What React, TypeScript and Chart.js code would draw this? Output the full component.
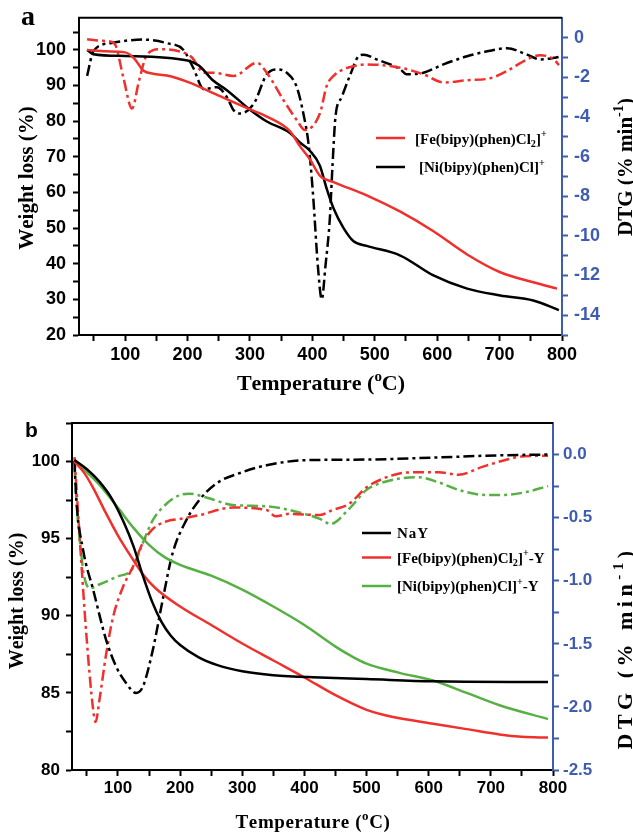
import { useEffect, useRef } from 'react';
import { Chart, registerables } from 'chart.js';
Chart.register(...registerables);

const RED = '#f0302c';
const GREEN = '#56b043';
const BLACK = '#000000';
const BLUE = '#3f5db0';
const SANS = "'Liberation Sans', Arial, sans-serif";
const SERIF = "'Liberation Serif', 'Times New Roman', serif";

// ---------- Panel a ----------
const aFeTgaTemp = [39, 70, 100, 115, 129, 145, 167, 200, 252, 300, 327, 364, 380, 396, 412, 434, 487, 541, 594, 648, 701, 754, 792];
const aFeTgaWt = [100, 99.6, 99.3, 97.5, 94.2, 93.3, 92.8, 91.0, 87.0, 83.3, 81.3, 77.2, 73.0, 69.3, 64.7, 62.9, 59.2, 54.6, 49.1, 42.6, 37.6, 34.8, 33.0];

const aNiTgaTemp = [39, 49, 100, 200, 218, 241, 263, 300, 327, 364, 380, 396, 412, 423, 434, 450, 466, 487, 541, 594, 648, 701, 754, 795];
const aNiTgaWt = [100, 98.8, 98.3, 97.0, 95.6, 91.4, 88.7, 83.2, 79.9, 76.7, 74.0, 71.7, 67.5, 61.0, 55.5, 50.0, 46.3, 45.0, 42.3, 36.7, 33.0, 31.1, 29.7, 27.0];

const aFeDtgTemp = [39, 60, 76, 84, 97, 111, 122, 135, 156, 188, 207, 226, 241, 274, 311, 327, 354, 375, 388, 412, 423, 434, 450, 466, 487, 541, 578, 610, 648, 685, 712, 744, 765, 787, 795];
const aFeDtgVal = [-0.08, -0.15, -0.2, -0.35, -2.0, -3.58, -2.2, -0.86, -0.58, -0.7, -1.0, -1.77, -1.77, -1.93, -1.27, -1.77, -3.17, -4.16, -4.66, -3.83, -2.43, -1.93, -1.6, -1.44, -1.35, -1.52, -1.85, -2.26, -2.15, -2.05, -1.68, -1.1, -0.89, -1.1, -1.39];

const aNiDtgTemp = [39, 49, 76, 129, 167, 193, 209, 226, 247, 263, 274, 284, 306, 327, 343, 359, 375, 386, 394, 401, 409, 415, 421, 428, 432, 437, 447, 460, 474, 482, 503, 541, 551, 578, 610, 648, 685, 712, 744, 765, 787, 795];
const aNiDtgVal = [-1.93, -0.69, -0.28, -0.1, -0.28, -0.61, -1.52, -2.6, -2.5, -3.0, -3.67, -3.83, -3.34, -1.85, -1.6, -1.77, -2.5, -3.9, -5.4, -7.9, -11.6, -13.2, -11.5, -9.1, -6.6, -4.0, -3.0, -1.93, -0.94, -0.86, -1.1, -1.6, -1.85, -1.77, -1.35, -0.94, -0.66, -0.53, -0.86, -1.1, -1.02, -0.97];

const aXTicks = [50, 100, 150, 200, 250, 300, 350, 400, 450, 500, 550, 600, 650, 700, 750, 800];
const aLeftTicks = [20, 25, 30, 35, 40, 45, 50, 55, 60, 65, 70, 75, 80, 85, 90, 95, 100, 105];
const aRightTicks = [-15, -14, -13, -12, -11, -10, -9, -8, -7, -6, -5, -4, -3, -2, -1, 0];

// ---------- Panel b ----------
const bNaYTgaTemp = [30, 50, 70, 90, 110, 125, 140, 155, 170, 185, 200, 230, 260, 300, 350, 425, 500, 607, 792];
const bNaYTgaWt = [100.1, 99.5, 98.7, 97.6, 96.0, 94.5, 92.6, 90.9, 89.6, 88.7, 88.1, 87.3, 86.8, 86.4, 86.15, 86.0, 85.9, 85.75, 85.7];

const bFeTgaTemp = [30, 45, 60, 80, 100, 120, 140, 160, 200, 250, 300, 350, 400, 450, 500, 530, 553, 607, 661, 714, 750, 792];
const bFeTgaWt = [100, 99.3, 98.3, 96.7, 95.2, 93.9, 92.7, 91.8, 90.6, 89.4, 88.2, 87.1, 86.0, 84.85, 83.9, 83.55, 83.35, 83.0, 82.65, 82.3, 82.15, 82.1];

const bNiTgaTemp = [30, 50, 70, 100, 125, 150, 175, 200, 250, 300, 350, 400, 450, 475, 500, 553, 607, 661, 714, 792];
const bNiTgaWt = [100, 99.3, 98.5, 97.0, 95.7, 94.6, 93.8, 93.3, 92.6, 91.7, 90.6, 89.4, 88.0, 87.4, 86.9, 86.3, 85.8, 85.0, 84.2, 83.3];

const bNaYDtgTemp = [30, 33, 44, 60, 81, 97, 113, 129, 140, 156, 172, 188, 210, 231, 258, 300, 339, 400, 500, 607, 714, 792];
const bNaYDtgVal = [-0.05, -0.36, -0.76, -1.07, -1.47, -1.68, -1.81, -1.89, -1.84, -1.55, -1.15, -0.78, -0.52, -0.36, -0.23, -0.14, -0.085, -0.045, -0.04, -0.024, -0.006, 0.0];

const bFeDtgTemp = [30, 38, 49, 60, 64, 70, 81, 92, 108, 124, 140, 156, 178, 200, 231, 285, 339, 354, 376, 425, 445, 472, 500, 527, 553, 584, 616, 648, 685, 722, 754, 792];
const bFeDtgVal = [-0.02, -0.63, -1.42, -2.02, -2.12, -1.95, -1.58, -1.29, -1.05, -0.89, -0.7, -0.59, -0.53, -0.51, -0.48, -0.42, -0.44, -0.49, -0.47, -0.48, -0.44, -0.39, -0.26, -0.19, -0.15, -0.14, -0.14, -0.16, -0.1, -0.045, -0.013, -0.01];

const bNiDtgTemp = [30, 35, 40, 45, 55, 70, 97, 124, 140, 156, 178, 200, 215, 242, 285, 339, 400, 425, 442, 472, 500, 527, 553, 584, 616, 648, 690, 722, 754, 792];
const bNiDtgVal = [-0.1, -0.5, -0.75, -0.95, -1.06, -1.03, -0.97, -0.9, -0.7, -0.52, -0.39, -0.32, -0.31, -0.34, -0.4, -0.41, -0.47, -0.51, -0.55, -0.43, -0.28, -0.22, -0.19, -0.18, -0.22, -0.28, -0.32, -0.32, -0.3, -0.25];

const bXTicks = [50, 100, 150, 200, 250, 300, 350, 400, 450, 500, 550, 600, 650, 700, 750, 800];
const bLeftTicks = [80, 82.5, 85, 87.5, 90, 92.5, 95, 97.5, 100, 102.5];
const bRightTicks = [-2.5, -2.25, -2, -1.75, -1.5, -1.25, -1, -0.75, -0.5, -0.25, 0];

// ---------- helpers ----------
type Seg = { t: string; s?: 'sup' | 'sub' };
type TextItem = { segs: Seg[]; x: number; y: number; size: number; family: string; color?: string; align?: 'left' | 'center'; rot?: number; spacing?: number };
type LegItem = { color: string; x1: number; x2: number; y: number; tx: number; ty: number; segs: Seg[]; size: number; spacing?: number };

function drawRich(ctx: CanvasRenderingContext2D, it: TextItem) {
  ctx.save();
  ctx.translate(it.x, it.y);
  if (it.rot) ctx.rotate(it.rot);
  const sp = it.spacing || 0;
  const fontOf = (sz: number) => `bold ${sz}px ${it.family}`;
  const parts = it.segs.map((sg) => {
    const sz = sg.s ? it.size * 0.68 : it.size;
    ctx.font = fontOf(sz);
    let w = 0;
    for (const ch of sg.t) w += ctx.measureText(ch).width + sp;
    return { sg, sz, w };
  });
  const total = parts.reduce((a, p) => a + p.w, 0);
  let cx = it.align === 'center' ? -total / 2 : 0;
  ctx.fillStyle = it.color || '#000';
  ctx.textBaseline = 'alphabetic';
  ctx.textAlign = 'left';
  for (const p of parts) {
    ctx.font = fontOf(p.sz);
    const dy = p.sg.s === 'sup' ? -it.size * 0.42 : p.sg.s === 'sub' ? it.size * 0.22 : 0;
    for (const ch of p.sg.t) {
      ctx.fillText(ch, cx, dy);
      cx += ctx.measureText(ch).width + sp;
    }
  }
  ctx.restore();
}

const makeAnnot = (texts: TextItem[], legend: LegItem[]) => ({
  id: 'annot',
  afterDraw(chart: any) {
    const ctx: CanvasRenderingContext2D = chart.ctx;
    const a = chart.chartArea;
    ctx.save();
    ctx.strokeStyle = '#000';
    ctx.lineWidth = 2;
    ctx.beginPath();
    ctx.moveTo(a.left - 1, a.top);
    ctx.lineTo(a.right, a.top);
    ctx.stroke();
    for (const l of legend) {
      ctx.strokeStyle = l.color;
      ctx.lineWidth = 2.5;
      ctx.setLineDash([]);
      ctx.beginPath();
      ctx.moveTo(l.x1, l.y);
      ctx.lineTo(l.x2, l.y);
      ctx.stroke();
      drawRich(ctx, { segs: l.segs, x: l.tx, y: l.ty, size: l.size, family: SERIF, spacing: l.spacing });
    }
    for (const t of texts) drawRich(ctx, t);
    ctx.restore();
  },
});

const pts = (xs: number[], ys: number[]) => xs.map((x, i) => ({ x, y: ys[i] }));
const DASHDOT = [11, 4, 3, 4];
const ds = (xs: number[], ys: number[], color: string, dashed: boolean, axis: string) => ({
  data: pts(xs, ys),
  borderColor: color,
  backgroundColor: color,
  borderWidth: 2.5,
  borderDash: dashed ? DASHDOT : [],
  pointRadius: 0,
  cubicInterpolationMode: 'monotone' as const,
  fill: false,
  yAxisID: axis,
});

function axisCfg(opts: {
  pos: 'left' | 'right' | 'bottom';
  min: number;
  max: number;
  ticks: number[];
  label: (v: number) => string;
  color: string;
  size: number;
  pad: number;
  fit: number;
}) {
  return {
    type: 'linear' as const,
    position: opts.pos,
    min: opts.min,
    max: opts.max,
    afterBuildTicks: (s: any) => {
      s.ticks = opts.ticks.map((v) => ({ value: v }));
    },
    afterFit: (s: any) => {
      if (opts.pos === 'bottom') s.height = opts.fit;
      else s.width = opts.fit;
    },
    ticks: {
      autoSkip: false,
      maxRotation: 0,
      padding: opts.pad,
      color: opts.color,
      font: { family: SANS, size: opts.size, weight: 'bold' as const },
      callback: (v: any) => opts.label(Number(v)),
    },
    grid: {
      drawOnChartArea: false,
      drawTicks: true,
      tickLength: 6,
      tickWidth: 2,
      tickColor: opts.color,
    },
    border: { display: true, color: opts.color, width: 2 },
  };
}

function useChart(ref: React.RefObject<HTMLCanvasElement | null>, make: () => any) {
  useEffect(() => {
    if (!ref.current) return;
    const c = new Chart(ref.current, make());
    return () => c.destroy();
  }, []);
}

export default function App() {
  const refA = useRef<HTMLCanvasElement | null>(null);
  const refB = useRef<HTMLCanvasElement | null>(null);

  useChart(refA, () => ({
    type: 'line',
    data: {
      datasets: [
        ds(aFeTgaTemp, aFeTgaWt, RED, false, 'y'),
        ds(aNiTgaTemp, aNiTgaWt, BLACK, false, 'y'),
        ds(aFeDtgTemp, aFeDtgVal, RED, true, 'y2'),
        ds(aNiDtgTemp, aNiDtgVal, BLACK, true, 'y2'),
      ],
    },
    options: {
      animation: false,
      responsive: false,
      devicePixelRatio: 1,
      layout: { padding: { top: 13, left: 0, right: 0, bottom: 0 } },
      plugins: { legend: { display: false }, tooltip: { enabled: false } },
      scales: {
        x: axisCfg({ pos: 'bottom', min: 26, max: 800, ticks: aXTicks, label: (v) => (v % 100 === 0 ? String(v) : ''), color: BLACK, size: 18, pad: 3, fit: 65 }),
        y: axisCfg({ pos: 'left', min: 20, max: 109, ticks: aLeftTicks, label: (v) => (v % 10 === 0 ? String(v) : ''), color: BLACK, size: 18, pad: 7, fit: 79 }),
        y2: axisCfg({ pos: 'right', min: -15, max: 1, ticks: aRightTicks, label: (v) => (v % 2 === 0 ? String(v) : ''), color: BLUE, size: 18, pad: 6, fit: 71 }),
      },
    },
    plugins: [
      makeAnnot(
        [
          { segs: [{ t: 'a' }], x: 21, y: 25, size: 28, family: SERIF },
          { segs: [{ t: 'Weight loss (%)' }], x: 33, y: 178, size: 21, family: SERIF, align: 'center', rot: -Math.PI / 2 },
          { segs: [{ t: 'DTG (% min' }, { t: '-1', s: 'sup' }, { t: ')' }], x: 632, y: 167, size: 21, family: SERIF, align: 'center', rot: -Math.PI / 2 },
          { segs: [{ t: 'Temperature (' }, { t: 'o', s: 'sup' }, { t: 'C)' }], x: 321, y: 390, size: 22, family: SERIF, align: 'center' },
        ],
        [
          { color: RED, x1: 376, x2: 405, y: 138, tx: 415, ty: 143.5, size: 15, segs: [{ t: '[Fe(bipy)(phen)Cl' }, { t: '2', s: 'sub' }, { t: ']' }, { t: '+', s: 'sup' }] },
          { color: BLACK, x1: 376, x2: 405, y: 167, tx: 419, ty: 172, size: 15, segs: [{ t: '[Ni(bipy)(phen)Cl]' }, { t: '+', s: 'sup' }] },
        ]
      ),
    ],
  }));

  useChart(refB, () => ({
    type: 'line',
    data: {
      datasets: [
        ds(bNaYTgaTemp, bNaYTgaWt, BLACK, false, 'y'),
        ds(bFeTgaTemp, bFeTgaWt, RED, false, 'y'),
        ds(bNiTgaTemp, bNiTgaWt, GREEN, false, 'y'),
        ds(bNaYDtgTemp, bNaYDtgVal, BLACK, true, 'y2'),
        ds(bFeDtgTemp, bFeDtgVal, RED, true, 'y2'),
        ds(bNiDtgTemp, bNiDtgVal, GREEN, true, 'y2'),
      ],
    },
    options: {
      animation: false,
      responsive: false,
      devicePixelRatio: 1,
      layout: { padding: { top: 23, left: 0, right: 0, bottom: 0 } },
      plugins: { legend: { display: false }, tooltip: { enabled: false } },
      scales: {
        x: axisCfg({ pos: 'bottom', min: 26, max: 800, ticks: bXTicks, label: (v) => (v % 100 === 0 ? String(v) : ''), color: BLACK, size: 17, pad: 2, fit: 63 }),
        y: axisCfg({ pos: 'left', min: 80, max: 102.5, ticks: bLeftTicks, label: (v) => (v % 5 === 0 ? String(v) : ''), color: BLACK, size: 17, pad: 6, fit: 72 }),
        y2: axisCfg({
          pos: 'right', min: -2.5, max: 0.25, ticks: bRightTicks,
          label: (v) => (Math.abs(v * 2 - Math.round(v * 2)) < 1e-9 ? (Math.abs(v) < 1e-9 ? '0.0' : v.toFixed(1)) : ''),
          color: BLUE, size: 17, pad: 4, fit: 80,
        }),
      },
    },
    plugins: [
      makeAnnot(
        [
          { segs: [{ t: 'b' }], x: 25, y: 36.5, size: 21, family: SANS },
          { segs: [{ t: 'Weight loss (%)' }], x: 23, y: 201, size: 20, family: SERIF, align: 'center', rot: -Math.PI / 2 },
          { segs: [{ t: 'DTG (% min' }, { t: '-1', s: 'sup' }, { t: ')' }], x: 632, y: 248, size: 22, family: SERIF, align: 'center', rot: -Math.PI / 2, spacing: 4.5 },
          { segs: [{ t: 'Temperature (' }, { t: 'o', s: 'sup' }, { t: 'C)' }], x: 313, y: 428, size: 19, family: SERIF, align: 'center', spacing: 0.6 },
        ],
        [
          { color: BLACK, x1: 362, x2: 391, y: 133, tx: 397, ty: 138, size: 15, spacing: 1, segs: [{ t: 'NaY' }] },
          { color: RED, x1: 362, x2: 391, y: 157.5, tx: 397, ty: 162.5, size: 15, segs: [{ t: '[Fe(bipy)(phen)Cl' }, { t: '2', s: 'sub' }, { t: ']' }, { t: '+', s: 'sup' }, { t: '-Y' }] },
          { color: GREEN, x1: 362, x2: 391, y: 186, tx: 397, ty: 191, size: 15, segs: [{ t: '[Ni(bipy)(phen)Cl]' }, { t: '+', s: 'sup' }, { t: '-Y' }] },
        ]
      ),
    ],
  }));

  return (
    <div style={{ position: 'absolute', left: 0, top: 0, width: 633, height: 833, background: '#fff' }}>
      <canvas ref={refA} width={633} height={400} style={{ display: 'block', width: 633, height: 400 }} />
      <canvas ref={refB} width={633} height={433} style={{ display: 'block', width: 633, height: 433 }} />
    </div>
  );
}
